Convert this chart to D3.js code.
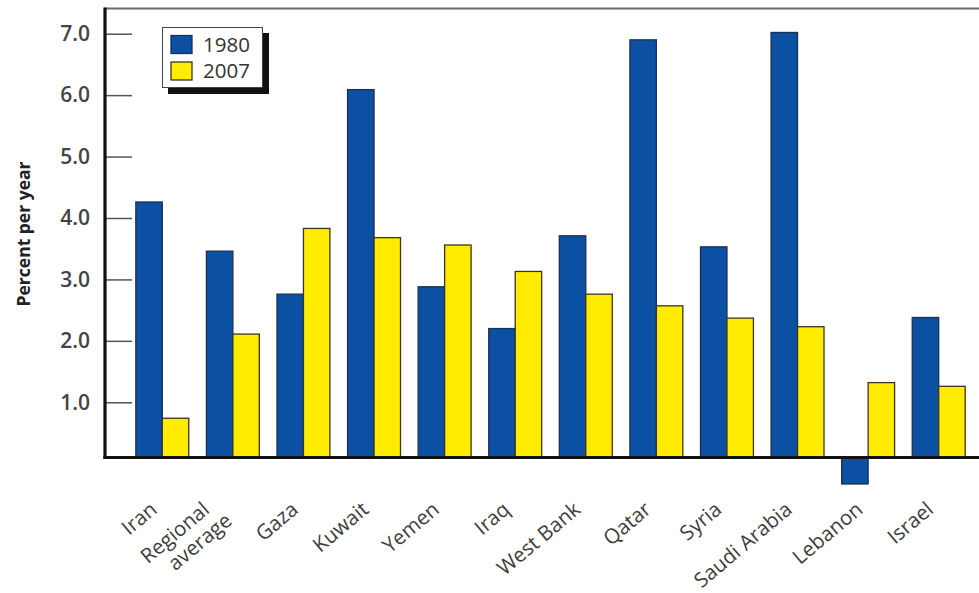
<!DOCTYPE html>
<html>
<head>
<meta charset="utf-8">
<script src="https://cdn.jsdelivr.net/npm/d3@7"></script>
<style>
  html, body { margin: 0; padding: 0; background: #fff; }
  svg { display: block; font-family: "Open Sans", "DejaVu Sans", sans-serif; }
</style>
</head>
<body>
<svg id="chart" width="979" height="593"></svg>
<script>
// ---- data ----
const categories = ["Iran", "Regional\naverage", "Gaza", "Kuwait", "Yemen", "Iraq",
  "West Bank", "Qatar", "Syria", "Saudi Arabia", "Lebanon", "Israel"];
const series = ["1980", "2007"];
const values1980 = [4.26, 3.46, 2.76, 6.09, 2.88, 2.20, 3.71, 6.90, 3.53, 7.02, -0.33, 2.38];
const values2007 = [0.74, 2.11, 3.83, 3.68, 3.56, 3.13, 2.76, 2.57, 2.37, 2.23, 1.32, 1.26];
const tickValues = [1, 2, 3, 4, 5, 6, 7];
const yTitle = "Percent per year";

// ---- layout ----
const W = 979, H = 593;
const axisX = 105, topY = 8.5;
const colors = { "1980": "#0b50a2", "2007": "#ffec00" };
const strokes = { "1980": "#1d2f55", "2007": "#3a3420" };
const baseValue = 0.1; // the drawn x-axis sits slightly above zero

const svg = d3.select("#chart");

const x0 = d3.scaleBand().domain(categories).range([127, 974]).paddingInner(0.25).paddingOuter(0.125);
const x1 = d3.scaleBand().domain(series).range([0, x0.bandwidth()]);
const y = d3.scaleLinear().domain([0, 7]).range([463.7, 33.7]);
const baseY = y(baseValue);

const rows = categories.map((c, i) => ({ cat: c, vals: [
  { s: "1980", v: values1980[i] }, { s: "2007", v: values2007[i] }] }));

// top frame line
svg.append("line").attr("x1", axisX).attr("x2", W).attr("y1", topY).attr("y2", topY)
  .attr("stroke", "#6a6a6a").attr("stroke-width", 2);

// y axis
const yAxis = d3.axisLeft(y).tickValues(tickValues).tickFormat(d3.format(".1f"))
  .tickSize(-27).tickPadding(15);
const gy = svg.append("g").attr("transform", `translate(${axisX},0)`).call(yAxis);
gy.select(".domain").remove();
gy.selectAll(".tick line").attr("stroke", "#555").attr("stroke-width", 1.5);
gy.selectAll(".tick text").attr("fill", "#444").attr("font-size", 21).attr("font-weight", 600)
  .attr("font-family", "'Open Sans', sans-serif");

// bars
const groups = svg.append("g").selectAll("g").data(rows).join("g")
  .attr("transform", d => `translate(${x0(d.cat)},0)`);
groups.selectAll("rect").data(d => d.vals).join("rect")
  .attr("x", d => x1(d.s))
  .attr("width", x1.bandwidth())
  .attr("y", d => d.v >= baseValue ? y(d.v) : baseY)
  .attr("height", d => Math.abs(y(d.v) - baseY))
  .attr("fill", d => colors[d.s])
  .attr("stroke", d => strokes[d.s])
  .attr("stroke-width", 1.3);

// axis lines
svg.append("line").attr("x1", axisX).attr("x2", axisX).attr("y1", topY - 1).attr("y2", baseY + 1.5)
  .attr("stroke", "#111").attr("stroke-width", 3.2);
svg.append("line").attr("x1", axisX - 1.5).attr("x2", W).attr("y1", baseY).attr("y2", baseY)
  .attr("stroke", "#111").attr("stroke-width", 3);

// x labels
const xAxis = d3.axisBottom(x0).tickSize(0).tickFormat("");
const gx = svg.append("g").attr("transform", `translate(0,${baseY})`).call(xAxis);
gx.select(".domain").remove();
gx.selectAll(".tick").each(function(d) {
  const lines = d.split("\n");
  const t = d3.select(this).append("text")
    .attr("transform", "translate(-4,54) rotate(-40)")
    .attr("text-anchor", "end")
    .attr("fill", "#3d3d3d")
    .attr("font-size", 20.5)
    .attr("font-family", "'Open Sans', sans-serif");
  lines.forEach((ln, i) => {
    t.append("tspan").attr("x", i * 10 - (lines.length - 1) * 14)
      .attr("y", (i - (lines.length - 1) / 2) * 23)
      .text(ln);
  });
});

// y title
svg.append("text").attr("transform", "translate(30,234) rotate(-90)")
  .attr("text-anchor", "middle").attr("fill", "#222")
  .attr("font-size", 17.5).attr("font-weight", 700)
  .text(yTitle);

// legend
const lg = svg.append("g").attr("transform", "translate(162,27)");
lg.append("rect").attr("x", 6).attr("y", 6).attr("width", 101).attr("height", 61).attr("fill", "#111");
lg.append("rect").attr("x", 0.5).attr("y", 0.5).attr("width", 100).attr("height", 60)
  .attr("fill", "#fff").attr("stroke", "#444").attr("stroke-width", 1);
series.forEach((s, i) => {
  lg.append("rect").attr("x", 9).attr("y", 8.5 + i * 26.5).attr("width", 21).attr("height", 18)
    .attr("fill", colors[s]).attr("stroke", strokes[s]).attr("stroke-width", 1.3);
  lg.append("text").attr("x", 41).attr("y", 24.5 + i * 26).attr("font-size", 20.5)
    .attr("fill", "#333").text(s);
});
</script>
</body>
</html>
